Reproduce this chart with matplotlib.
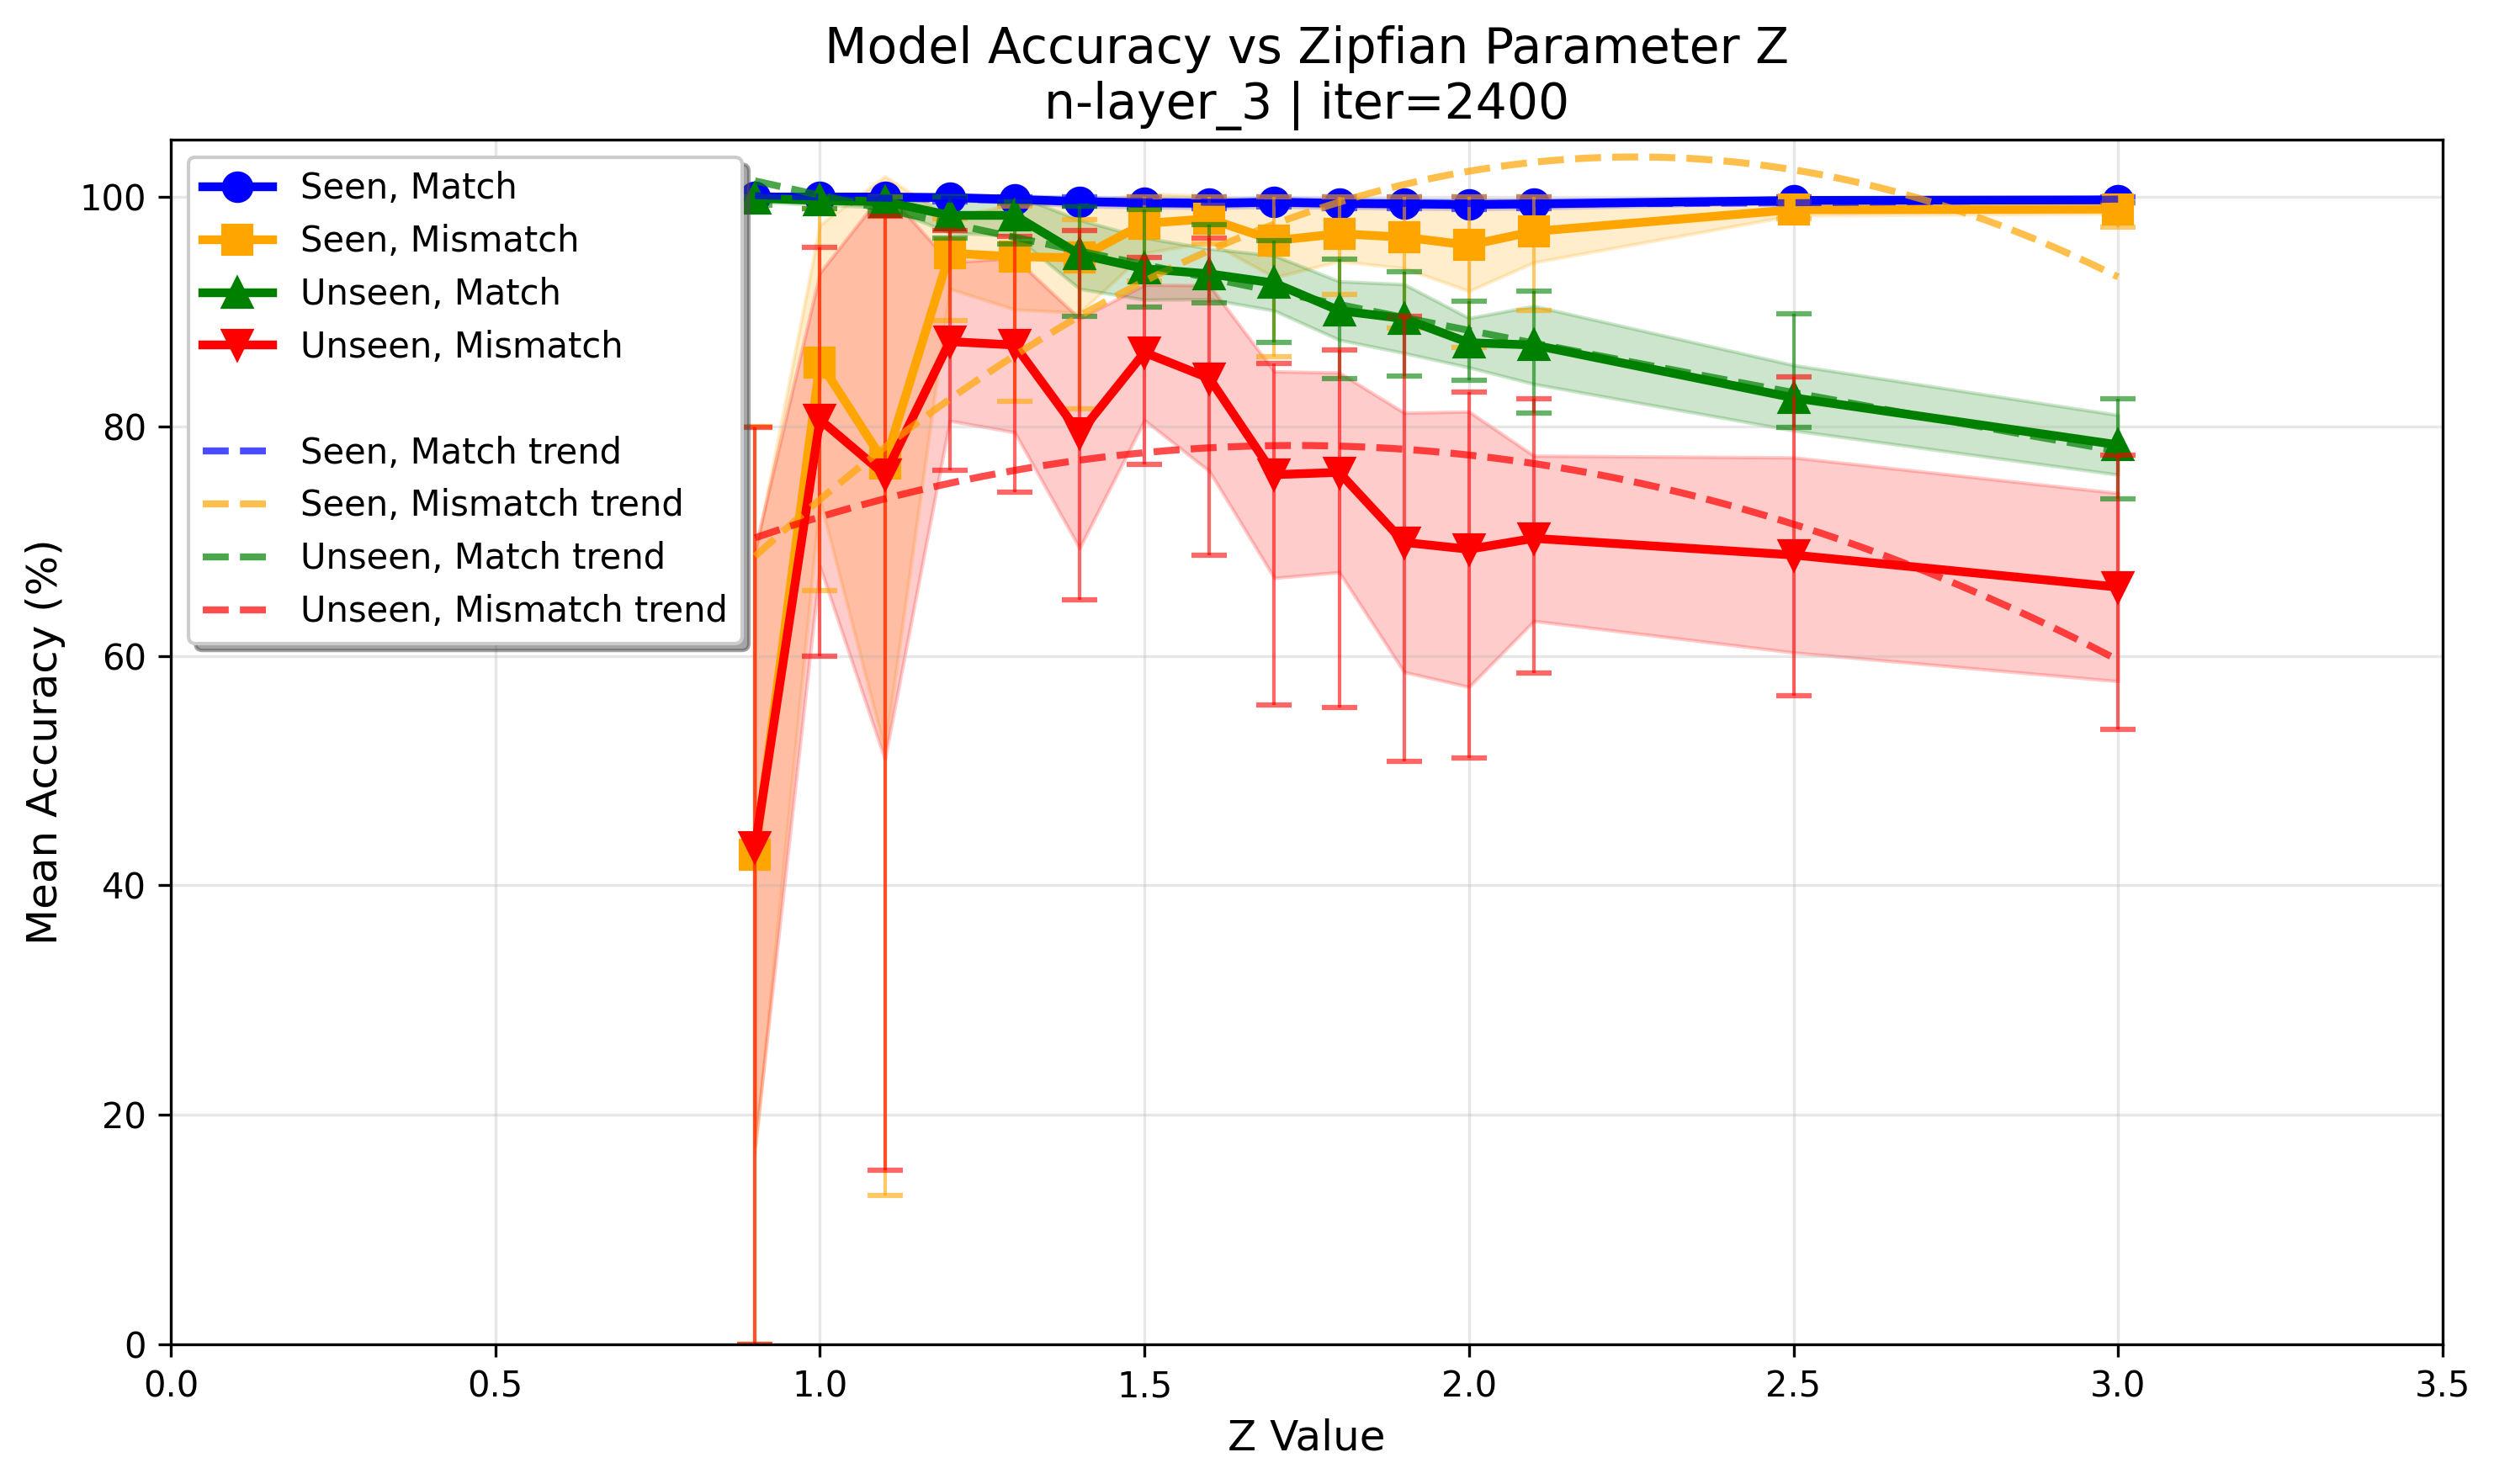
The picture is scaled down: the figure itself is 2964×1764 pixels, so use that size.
import matplotlib
matplotlib.use("Agg")
import matplotlib.pyplot as plt
from matplotlib.lines import Line2D
import numpy as np

# Z values
z = [0.9, 1.0, 1.1, 1.2, 1.3, 1.4, 1.5, 1.6, 1.7, 1.8, 1.9, 2.0, 2.1, 2.5, 3.0]

# mean accuracy per condition
seen_match = [100.0, 100.0, 100.0, 99.95, 99.8, 99.6, 99.5, 99.45, 99.55, 99.45, 99.4, 99.35, 99.4, 99.7, 99.75]
seen_mismatch = [42.7, 85.6, 76.8, 95.1, 94.8, 94.7, 97.7, 98.1, 96.2, 96.8, 96.5, 95.8, 97.0, 98.9, 98.95]
unseen_match = [99.9, 99.7, 99.6, 98.4, 98.4, 95.0, 93.75, 93.3, 92.5, 90.1, 89.4, 87.3, 87.1, 82.5, 78.4]
unseen_mismatch = [43.3, 80.6, 75.8, 87.4, 87.1, 79.4, 86.45, 84.2, 75.8, 76.0, 69.9, 69.3, 70.25, 68.8, 66.0]

# std (shaded band)
seen_match_std = [0.1, 0.1, 0.1, 0.2, 0.3, 0.4, 0.4, 0.4, 0.4, 0.4, 0.4, 0.4, 0.4, 0.2, 0.2]
seen_mismatch_std = [26.0, 12.0, 25.0, 3.1, 4.6, 4.8, 2.6, 2.0, 3.2, 2.4, 2.7, 4.0, 2.7, 0.5, 0.4]
unseen_match_std = [0.3, 0.4, 0.5, 1.5, 1.8, 3.0, 2.7, 2.2, 2.4, 2.55, 3.0, 2.15, 3.4, 2.85, 2.6]
unseen_mismatch_std = [26.0, 12.8, 24.8, 6.9, 7.6, 10.0, 5.9, 8.1, 9.0, 8.7, 11.3, 12.0, 7.2, 8.5, 8.2]

# min / max (error bars)
seen_match_min = [99.8, 99.8, 99.8, 99.6, 99.4, 99.2, 99.05, 99.0, 99.1, 99.0, 99.0, 98.9, 99.0, 99.4, 99.5]
seen_match_max = [100.0] * 15
seen_mismatch_min = [0.0, 65.7, 13.0, 89.2, 82.2, 81.5, 92.7, 95.9, 86.1, 91.5, 88.6, 86.9, 90.1, 98.1, 97.4]
seen_mismatch_max = [80.0, 99.0, 100.0, 98.1, 99.2, 98.0, 100.0, 100.0, 100.0, 100.0, 100.0, 100.0, 100.0, 99.6, 99.5]
unseen_match_min = [99.3, 99.0, 98.8, 96.4, 95.9, 89.6, 90.4, 90.8, 87.3, 84.2, 84.4, 84.0, 81.2, 79.9, 73.7]
unseen_match_max = [100.0, 100.0, 100.0, 100.0, 99.6, 99.2, 98.9, 97.6, 96.2, 94.6, 93.5, 90.9, 91.8, 89.8, 82.4]
unseen_mismatch_min = [0.0, 60.0, 15.2, 76.2, 74.3, 64.9, 76.7, 68.8, 55.7, 55.5, 50.8, 51.1, 58.5, 56.5, 53.6]
unseen_mismatch_max = [79.9, 95.6, 98.3, 97.1, 96.6, 97.1, 94.7, 96.4, 85.5, 86.7, 89.6, 83.0, 82.4, 84.3, 77.5]

series = [
    ("Seen, Match", seen_match, seen_match_std, seen_match_min, seen_match_max, "blue", "o"),
    ("Seen, Mismatch", seen_mismatch, seen_mismatch_std, seen_mismatch_min, seen_mismatch_max, "orange", "s"),
    ("Unseen, Match", unseen_match, unseen_match_std, unseen_match_min, unseen_match_max, "green", "^"),
    ("Unseen, Mismatch", unseen_mismatch, unseen_mismatch_std, unseen_mismatch_min, unseen_mismatch_max, "red", "v"),
]

fig = plt.figure(figsize=(9.88, 5.88), dpi=300)
ax = fig.add_axes([0.0685, 0.0941, 0.9109, 0.8118])

zz = np.array(z)
handles = []
for label, mean, std, lo, hi, color, marker in series:
    mean = np.array(mean)
    std = np.array(std)
    ax.fill_between(zz, mean - std, mean + std, color=color, alpha=0.2)
    yerr = [mean - np.array(lo), np.array(hi) - mean]
    ax.errorbar(zz, mean, yerr=yerr, fmt="none", ecolor=color, alpha=0.6,
                elinewidth=1, capsize=5, capthick=1.5)
    h, = ax.plot(zz, mean, color=color, marker=marker, linewidth=2.5,
                 markersize=8, label=label)
    handles.append(h)

handles.append(Line2D([], [], linestyle="none", label=" "))

zfit = np.linspace(zz.min(), zz.max(), 200)
for label, mean, std, lo, hi, color, marker in series:
    coef = np.polyfit(zz, mean, 2)
    h, = ax.plot(zfit, np.polyval(coef, zfit), "--", color=color, alpha=0.7,
                 linewidth=2, label=f"{label} trend")
    handles.append(h)

ax.set_xlim(0, 3.5)
ax.set_ylim(0, 105)
ax.set_xlabel("Z Value", fontsize=12)
ax.set_ylabel("Mean Accuracy (%)", fontsize=12)
ax.set_title("Model Accuracy vs Zipfian Parameter Z\nn-layer_3 | iter=2400", fontsize=14)
ax.grid(True, alpha=0.3)
ax.legend(handles=handles, loc="upper left", shadow=True, fontsize=10)

fig.savefig("out.png", dpi=300)
